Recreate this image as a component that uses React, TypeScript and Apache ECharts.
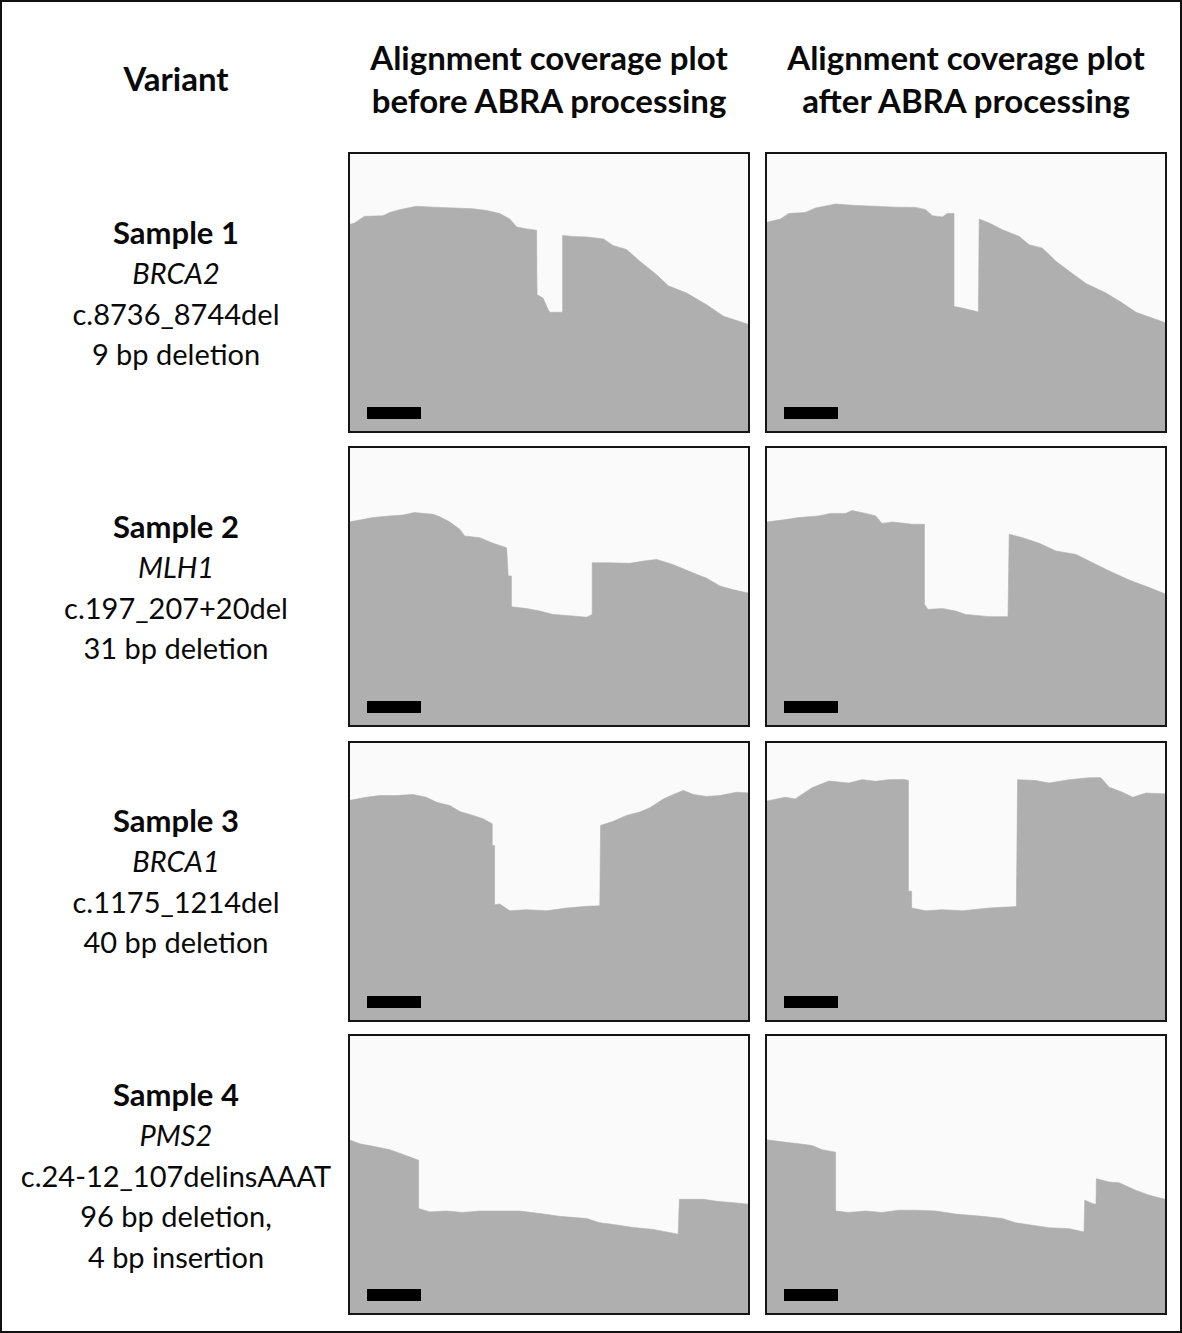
import React, { useEffect, useRef } from "react";
import * as echarts from "echarts";

// ---- Coverage profiles (x: % of window, y: % of panel height) ----
const s1BeforePos = [0, 1.4, 3.9, 8.5, 10.2, 12.7, 16.8, 21.0, 26.0, 31.0, 34.4, 37.7, 40.2, 41.9, 44.4, 46.9, 47.0, 48.5, 49.8, 50.2, 53.4, 53.4, 56.0, 59.4, 63.6, 66.1, 69.4, 72.7, 76.9, 79.8, 84.4, 89.4, 93.6, 100];
const s1BeforeCov = [74.3, 74.9, 77.3, 77.5, 78.7, 79.7, 80.9, 80.6, 80.3, 80.0, 79.4, 78.3, 76.3, 73.5, 72.8, 72.3, 49.2, 48.0, 43.8, 42.9, 42.9, 70.4, 70.1, 69.9, 69.2, 66.8, 65.4, 61.2, 56.4, 52.4, 49.8, 45.6, 41.5, 38.5];

const s1AfterPos = [0, 3.6, 5.7, 9.8, 12.4, 17.4, 22.4, 27.4, 32.4, 37.4, 39.9, 41.6, 44.1, 45.3, 47.0, 47.0, 49.1, 53.1, 53.3, 55.8, 59.1, 63.3, 65.8, 69.1, 72.5, 75.8, 80.0, 85.0, 89.1, 92.5, 100];
const s1AfterCov = [75.1, 76.3, 78.3, 78.7, 80.3, 81.7, 81.2, 80.9, 80.6, 80.5, 79.7, 77.5, 77.1, 78.3, 78.3, 45.0, 44.4, 43.0, 76.3, 74.9, 72.5, 70.1, 67.1, 65.9, 61.2, 57.6, 53.2, 49.8, 46.2, 42.9, 39.1];

const s2BeforePos = [0, 2.7, 6.0, 10.2, 13.5, 16.4, 21.0, 22.7, 25.2, 27.7, 28.9, 32.7, 36.0, 39.4, 39.8, 40.6, 40.6, 44.4, 47.7, 51.0, 56.0, 59.4, 60.8, 60.8, 64.4, 70.2, 73.6, 76.9, 81.1, 86.1, 89.4, 92.7, 96.1, 100];
const s2BeforeCov = [73.1, 73.8, 74.7, 75.3, 75.6, 76.5, 75.9, 75.0, 73.1, 70.5, 68.1, 67.5, 65.5, 63.9, 53.8, 53.8, 42.7, 42.1, 41.2, 40.0, 39.4, 39.0, 40.0, 58.5, 58.5, 58.3, 59.1, 59.7, 57.8, 54.8, 53.0, 50.2, 48.8, 47.6];

const s2AfterPos = [0, 4.0, 8.2, 13.2, 16.1, 19.9, 21.5, 24.9, 27.4, 29.0, 31.6, 36.6, 39.6, 39.6, 40.5, 44.1, 47.4, 49.9, 55.8, 60.5, 60.8, 64.1, 68.3, 72.5, 77.5, 80.8, 85.8, 90.8, 95.8, 100];
const s2AfterCov = [73.1, 73.8, 74.7, 75.3, 76.2, 76.2, 77.2, 76.2, 75.3, 72.6, 73.1, 72.3, 72.3, 43.6, 41.8, 42.1, 41.2, 40.0, 39.2, 39.2, 68.7, 67.5, 65.5, 62.7, 61.5, 59.1, 55.6, 52.3, 49.6, 47.2];

const s3BeforePos = [0, 4.3, 7.7, 11.8, 16.0, 19.3, 21.9, 25.2, 27.7, 31.0, 33.5, 35.8, 35.8, 36.4, 36.4, 37.7, 40.2, 44.4, 49.4, 54.4, 59.4, 62.7, 62.9, 66.1, 69.4, 72.7, 75.2, 78.6, 81.1, 83.6, 86.1, 89.4, 92.7, 96.9, 100];
const s3BeforeCov = [79.0, 80.2, 80.8, 80.8, 81.2, 80.2, 78.4, 77.2, 75.1, 73.7, 72.5, 70.7, 62.9, 62.9, 41.7, 41.9, 39.5, 39.9, 39.5, 40.5, 41.1, 41.3, 70.1, 71.6, 73.7, 74.9, 76.4, 79.6, 81.2, 82.6, 81.2, 80.5, 80.8, 82.0, 81.7];

const s3AfterPos = [0, 4.8, 7.3, 11.5, 15.7, 20.7, 24.0, 27.4, 30.7, 34.5, 35.6, 35.6, 36.4, 36.4, 39.9, 44.1, 49.1, 55.8, 62.6, 62.9, 67.4, 70.8, 75.8, 80.8, 83.7, 85.8, 89.1, 91.7, 95.0, 100];
const s3AfterCov = [78.8, 80.2, 79.6, 83.6, 86.0, 85.3, 86.5, 85.9, 86.5, 86.6, 86.2, 46.5, 46.5, 40.5, 39.5, 39.9, 39.5, 40.5, 41.0, 86.5, 86.2, 85.3, 86.5, 87.2, 87.2, 83.8, 82.0, 80.2, 81.7, 81.4];

const s4BeforePos = [0, 2.7, 6.0, 10.2, 13.5, 17.4, 17.4, 20.2, 24.4, 28.5, 32.7, 37.7, 42.7, 47.7, 52.7, 59.4, 62.7, 66.1, 71.1, 76.1, 82.3, 82.6, 88.6, 91.9, 96.1, 100];
const s4BeforeCov = [62.5, 61.0, 60.1, 58.9, 57.2, 55.1, 37.8, 36.6, 36.9, 36.4, 36.9, 36.9, 36.9, 36.0, 35.0, 34.2, 32.7, 32.1, 31.0, 30.3, 28.6, 41.1, 41.1, 40.4, 39.9, 39.3];

const s4AfterPos = [0, 4.0, 8.2, 11.5, 14.0, 17.4, 17.4, 20.7, 24.9, 29.0, 33.2, 37.4, 42.4, 47.4, 54.1, 59.1, 62.4, 66.6, 70.8, 75.8, 79.5, 79.7, 81.6, 82.5, 82.6, 85.8, 88.3, 92.5, 95.8, 100];
const s4AfterCov = [62.5, 61.7, 61.0, 60.4, 58.9, 58.0, 36.9, 36.4, 36.9, 36.4, 37.2, 37.2, 36.9, 35.8, 35.0, 34.2, 32.7, 31.8, 30.9, 30.6, 29.4, 40.8, 39.6, 39.3, 48.5, 47.3, 47.0, 44.3, 42.6, 41.0];

// ---- Text ----
const headerVariant = "Variant";
const headerBefore = ["Alignment coverage plot", "before ABRA processing"];
const headerAfter = ["Alignment coverage plot", "after ABRA processing"];
const sampleNames = ["Sample 1", "Sample 2", "Sample 3", "Sample 4"];
const geneNames = ["BRCA2", "MLH1", "BRCA1", "PMS2"];
const variantLines = [
  ["c.8736_8744del", "9 bp deletion"],
  ["c.197_207+20del", "31 bp deletion"],
  ["c.1175_1214del", "40 bp deletion"],
  ["c.24-12_107delinsAAAT", "96 bp deletion,", "4 bp insertion"],
];

const profiles = [
  [s1BeforePos, s1BeforeCov, s1AfterPos, s1AfterCov],
  [s2BeforePos, s2BeforeCov, s2AfterPos, s2AfterCov],
  [s3BeforePos, s3BeforeCov, s3AfterPos, s3AfterCov],
  [s4BeforePos, s4BeforeCov, s4AfterPos, s4AfterCov],
];

const W = 1182;
const H = 1333;
const FONT = "Lato, 'Noto Sans', sans-serif";
const GRAY = "#AFAFAF";
const BG = "#FAFAFA";
const colLeft = [349, 766];
const rowTop = [153, 447, 742, 1035];
const panelW = 400;
const panelH = 279;
const textX = 176;
const sampleY = [232, 526, 820, 1094];
const lineGap = 40.6;

export default function App() {
  const ref = useRef<HTMLDivElement>(null);
  useEffect(() => {
    if (!ref.current) return;
    const chart = echarts.init(ref.current, undefined, { renderer: "svg" });
    const grids: any[] = [];
    const xAxes: any[] = [];
    const yAxes: any[] = [];
    const series: any[] = [];
    const graphic: any[] = [];

    graphic.push({
      type: "rect",
      shape: { x: 1, y: 1, width: W - 2, height: H - 2 },
      style: { fill: "#FFFFFF", stroke: "#111", lineWidth: 2 },
      z: -10,
      silent: true,
    });

    let idx = 0;
    profiles.forEach((p, r) => {
      for (let c = 0; c < 2; c++) {
        const pos = p[c * 2];
        const cov = p[c * 2 + 1];
        grids.push({
          left: colLeft[c],
          top: rowTop[r],
          width: panelW,
          height: panelH,
          show: true,
          backgroundColor: BG,
          borderWidth: 0,
        });
        xAxes.push({ type: "value", gridIndex: idx, min: 0, max: 100, show: false });
        yAxes.push({ type: "value", gridIndex: idx, min: 0, max: 100, show: false });
        series.push({
          type: "line",
          xAxisIndex: idx,
          yAxisIndex: idx,
          data: pos.map((x, i) => [x, cov[i]]),
          symbol: "none",
          lineStyle: { width: 0.6, color: GRAY },
          areaStyle: { color: GRAY, opacity: 1 },
          silent: true,
        });
        graphic.push({
          type: "rect",
          shape: { x: colLeft[c] + 18, y: rowTop[r] + 254, width: 54, height: 12 },
          style: { fill: "#000" },
          z: 100,
          silent: true,
        });
        graphic.push({
          type: "rect",
          shape: { x: colLeft[c], y: rowTop[r], width: panelW, height: panelH },
          style: { fill: "none", stroke: "#151515", lineWidth: 2 },
          z: 100,
          silent: true,
        });
        idx++;
      }
    });

    const txt = (text: string, x: number, y: number, size: number, weight: string, style: string) => ({
      type: "text",
      x,
      y,
      style: {
        text,
        fill: "#0a0a0a",
        fontFamily: FONT,
        fontSize: size,
        fontWeight: weight,
        fontStyle: style,
        align: "center",
        verticalAlign: "middle",
      },
      z: 100,
      silent: true,
    });

    graphic.push(txt(headerVariant, textX, 78, 33, "bold", "normal"));
    headerBefore.forEach((t, i) => graphic.push(txt(t, 549, 57 + i * 43, 33, "bold", "normal")));
    headerAfter.forEach((t, i) => graphic.push(txt(t, 966, 57 + i * 43, 33, "bold", "normal")));
    sampleNames.forEach((s, r) => {
      const y0 = sampleY[r];
      graphic.push(txt(s, textX, y0, 31, "bold", "normal"));
      graphic.push(txt(geneNames[r], textX, y0 + lineGap, 29, "normal", "italic"));
      variantLines[r].forEach((l, k) => graphic.push(txt(l, textX, y0 + lineGap * (k + 2), 29, "normal", "normal")));
    });

    chart.setOption({
      animation: false,
      backgroundColor: "#FFFFFF",
      grid: grids,
      xAxis: xAxes,
      yAxis: yAxes,
      series,
      graphic,
    });
    return () => chart.dispose();
  }, []);
  return <div ref={ref} style={{ position: "absolute", left: 0, top: 0, width: W, height: H }} />;
}
